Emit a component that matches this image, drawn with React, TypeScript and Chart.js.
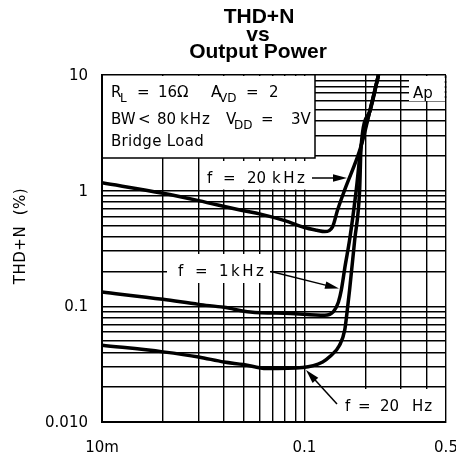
import React, { useEffect, useRef } from 'react';
import { Chart, registerables } from 'chart.js';

Chart.register(...registerables);

// Axis ranges and tick labels
const xMin = 0.01;
const xMax = 0.5;
const yMin = 0.01;
const yMax = 10;
const xTickValues = [0.01, 0.1, 0.5];
const xTickLabels = ['10m', '0.1', '0.5'];
const yTickValues = [10, 1, 0.1, 0.01];
const yTickLabels = ['10', '1', '0.1', '0.010'];

// f = 20 kHz
const pow20k = [0.01, 0.02, 0.03, 0.05, 0.06, 0.08, 0.1, 0.115, 0.126, 0.1376, 0.1457, 0.1578, 0.1904, 0.2101, 0.232];
const thd20k = [1.17, 0.95, 0.82, 0.67, 0.63, 0.55, 0.48, 0.455, 0.443, 0.487, 0.68, 1.01, 2.43, 4.84, 10];

// f = 1 kHz
const pow1k = [0.01, 0.02, 0.03, 0.04, 0.054, 0.085, 0.126, 0.139, 0.147, 0.152, 0.159, 0.167, 0.18, 0.1904, 0.2101, 0.232];
const thd1k = [0.133, 0.115, 0.104, 0.098, 0.0894, 0.0868, 0.0838, 0.09, 0.1086, 0.138, 0.227, 0.374, 1.0, 2.43, 4.84, 10];

// f = 20 Hz
const pow20 = [0.01, 0.02, 0.03, 0.04, 0.05, 0.065, 0.098, 0.123, 0.133, 0.149, 0.158, 0.162, 0.167, 0.177, 0.1872, 0.1904, 0.2101, 0.232];
const thd20 = [0.0461, 0.0404, 0.0365, 0.033, 0.0314, 0.029, 0.0296, 0.033, 0.0366, 0.0461, 0.0622, 0.0868, 0.138, 0.374, 1.0, 2.43, 4.84, 10];

const FONT = '"DejaVu Sans", "Liberation Sans", sans-serif';

function logGrid(min: number, max: number): number[] {
  const out: number[] = [];
  for (let e = Math.floor(Math.log10(min)); e <= Math.ceil(Math.log10(max)); e++) {
    for (let m = 1; m <= 9; m++) {
      const v = m * Math.pow(10, e);
      if (v >= min * 0.999 && v <= max * 1.001) out.push(v);
    }
  }
  return out;
}

function txt(ctx: CanvasRenderingContext2D, s: string, x: number, y: number, size = 15, spacing = 0) {
  ctx.font = `${size}px ${FONT}`;
  ctx.textAlign = 'left';
  ctx.textBaseline = 'alphabetic';
  (ctx as any).letterSpacing = `${spacing}px`;
  ctx.fillText(s, x, y);
  (ctx as any).letterSpacing = '0px';
}

function arrow(ctx: CanvasRenderingContext2D, x1: number, y1: number, x2: number, y2: number) {
  const a = Math.atan2(y2 - y1, x2 - x1);
  const L = 14;
  const W = 3.8;
  ctx.beginPath();
  ctx.moveTo(x1, y1);
  ctx.lineTo(x2 - L * 0.7 * Math.cos(a), y2 - L * 0.7 * Math.sin(a));
  ctx.stroke();
  ctx.beginPath();
  ctx.moveTo(x2, y2);
  ctx.lineTo(x2 - L * Math.cos(a) + W * Math.sin(a), y2 - L * Math.sin(a) - W * Math.cos(a));
  ctx.lineTo(x2 - L * Math.cos(a) - W * Math.sin(a), y2 - L * Math.sin(a) + W * Math.cos(a));
  ctx.closePath();
  ctx.fill();
}

const annotPlugin = {
  id: 'annot',
  beforeDatasetsDraw(chart: any) {
    const ctx: CanvasRenderingContext2D = chart.ctx;
    ctx.save();
    ctx.fillStyle = '#fff';
    // info box
    ctx.fillRect(103, 76, 212, 82);
    // label boxes
    ctx.fillRect(202, 161, 108, 28.5);
    ctx.fillRect(167, 254, 103, 29);
    ctx.fillRect(338, 389, 107, 32);
    ctx.fillRect(409, 76, 36, 25);
    ctx.strokeStyle = '#000';
    ctx.lineWidth = 1.5;
    ctx.beginPath();
    ctx.moveTo(315, 75);
    ctx.lineTo(315, 158);
    ctx.lineTo(102, 158);
    ctx.stroke();
    // dotted edge near Ap
    ctx.setLineDash([2, 3]);
    ctx.beginPath();
    ctx.moveTo(445.5, 76);
    ctx.lineTo(445.5, 101);
    ctx.stroke();
    ctx.setLineDash([]);

    ctx.fillStyle = '#000';
    // info text
    txt(ctx, 'R', 111, 97);
    txt(ctx, 'L', 120, 102, 12);
    txt(ctx, '=', 137, 97);
    txt(ctx, '16\u03A9', 158, 97);
    txt(ctx, 'A', 211, 97);
    txt(ctx, 'VD', 219, 102, 12);
    txt(ctx, '=', 246, 97);
    txt(ctx, '2', 269, 97);

    txt(ctx, 'BW', 111, 124);
    txt(ctx, '<', 138, 124);
    txt(ctx, '80', 157, 124);
    txt(ctx, 'kHz', 180, 124, 15, 1);
    txt(ctx, 'V', 226, 124);
    txt(ctx, 'DD', 234, 129, 12);
    txt(ctx, '=', 261, 124);
    txt(ctx, '3V', 291, 124);

    txt(ctx, 'Bridge Load', 111, 145.5, 15, 0.3);

    txt(ctx, 'Ap', 413, 98);

    // curve labels
    txt(ctx, 'f', 207, 183);
    txt(ctx, '=', 223, 183);
    txt(ctx, '20', 247, 183);
    txt(ctx, 'kHz', 272, 183, 15, 2.5);

    txt(ctx, 'f', 178, 276);
    txt(ctx, '=', 195, 276);
    txt(ctx, '1', 219, 276);
    txt(ctx, 'kHz', 231, 276, 15, 2.5);

    txt(ctx, 'f', 345, 410.5);
    txt(ctx, '=', 358, 410.5);
    txt(ctx, '20', 380, 410.5);
    txt(ctx, 'Hz', 412, 410.5, 15, 1);
    ctx.restore();
  },
  afterDatasetsDraw(chart: any) {
    const ctx: CanvasRenderingContext2D = chart.ctx;
    ctx.save();
    ctx.strokeStyle = '#000';
    ctx.fillStyle = '#000';
    ctx.lineWidth = 1.5;
    arrow(ctx, 312, 178, 347, 178);
    arrow(ctx, 271, 271.5, 339, 288.5);
    arrow(ctx, 337, 404, 306, 370);
    ctx.restore();
  },
  afterDraw(chart: any) {
    const ctx: CanvasRenderingContext2D = chart.ctx;
    const xs = chart.scales.x;
    const ys = chart.scales.y;
    ctx.save();
    ctx.fillStyle = '#000';
    // tick labels
    ctx.font = `15px ${FONT}`;
    ctx.textBaseline = 'middle';
    ctx.textAlign = 'right';
    yTickValues.forEach((v, i) => {
      ctx.fillText(yTickLabels[i], 88, ys.getPixelForValue(v) + 1);
    });
    ctx.textAlign = 'center';
    xTickValues.forEach((v, i) => {
      ctx.fillText(xTickLabels[i], xs.getPixelForValue(v), 448);
    });
    // axis title
    ctx.save();
    ctx.translate(21, 236);
    ctx.rotate(-Math.PI / 2);
    ctx.textAlign = 'center';
    ctx.textBaseline = 'middle';
    (ctx as any).letterSpacing = '0.5px';
    ctx.fillText('THD+N  (%)', 0, 0);
    (ctx as any).letterSpacing = '0px';
    ctx.restore();
    // chart title
    ctx.font = `bold 21px "Liberation Sans", Arial, sans-serif`;
    ctx.textAlign = 'center';
    ctx.textBaseline = 'alphabetic';
    ctx.fillText('THD+N', 259, 23);
    ctx.fillText('vs', 258, 41);
    ctx.fillText('Output Power', 258, 58);
    ctx.restore();
  },
};

export default function App() {
  const ref = useRef<HTMLCanvasElement>(null);
  useEffect(() => {
    const canvas = ref.current;
    if (!canvas) return;
    const xGrid = logGrid(xMin, xMax);
    const yGrid = logGrid(yMin, yMax);
    const mk = (xs: number[], ys: number[]) => xs.map((x, i) => ({ x, y: ys[i] }));
    const ds = (label: string, xs: number[], ys: number[]) => ({
      label,
      data: mk(xs, ys),
      borderColor: '#000',
      backgroundColor: '#000',
      borderWidth: 3.5,
      pointRadius: 0,
      cubicInterpolationMode: 'monotone' as const,
      fill: false,
    });
    const chart = new Chart(canvas, {
      type: 'line',
      data: {
        datasets: [
          ds('f = 20 kHz', pow20k, thd20k),
          ds('f = 1 kHz', pow1k, thd1k),
          ds('f = 20 Hz', pow20, thd20),
        ],
      },
      options: {
        responsive: false,
        animation: false,
        devicePixelRatio: 1,
        layout: { padding: { top: 75, right: 10, left: 0, bottom: 0 } },
        plugins: {
          legend: { display: false },
          tooltip: { enabled: false },
          title: { display: false },
        },
        scales: {
          x: {
            type: 'logarithmic',
            min: xMin,
            max: xMax,
            ticks: { display: false },
            grid: { color: '#000', lineWidth: 1.4, drawTicks: false },
            border: { color: '#000', width: 2 },
            afterBuildTicks: (s: any) => {
              s.ticks = xGrid.map((v) => ({ value: v }));
            },
            afterFit: (s: any) => {
              s.height = 42;
            },
          },
          y: {
            type: 'logarithmic',
            min: yMin,
            max: yMax,
            ticks: { display: false },
            grid: { color: '#000', lineWidth: 1.4, drawTicks: false },
            border: { color: '#000', width: 2 },
            afterBuildTicks: (s: any) => {
              s.ticks = yGrid.map((v) => ({ value: v }));
            },
            afterFit: (s: any) => {
              s.width = 102;
            },
          },
        },
      } as any,
      plugins: [annotPlugin],
    });
    return () => chart.destroy();
  }, []);
  return (
    <div style={{ position: 'fixed', left: 0, top: 0, width: 456, height: 464, background: '#fff' }}>
      <canvas ref={ref} width={456} height={464} style={{ display: 'block', width: 456, height: 464 }} />
    </div>
  );
}
